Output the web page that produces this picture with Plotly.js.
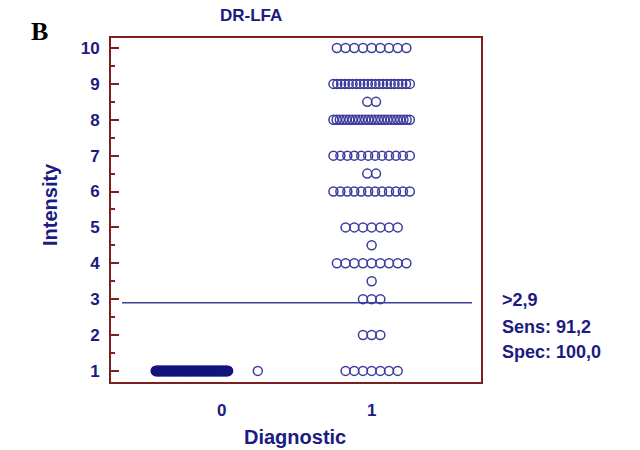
<!DOCTYPE html>
<html>
<head>
<meta charset="utf-8">
<script src="https://cdn.plot.ly/plotly-3.0.1.min.js"></script>
<style>html,body{margin:0;padding:0;background:#fff;}#chart{width:640px;height:450px;}</style>
</head>
<body>
<div id="chart"></div>
<script>
// ---- data ----
const groups = [0, 1];
const groupLabels = ['0', '1'];
// Diagnostic 0: intensity values (all at 1)
const g0Values = [1, 1, 1, 1, 1, 1, 1, 1, 1, 1, 1, 1, 1, 1, 1, 1, 1, 1, 1, 1,
                  1, 1, 1, 1, 1, 1, 1, 1, 1, 1, 1, 1, 1, 1, 1, 1, 1, 1, 1, 1,
                  1, 1, 1, 1, 1, 1, 1, 1, 1, 1, 1, 1, 1, 1, 1, 1, 1, 1, 1, 1];
// Diagnostic 1: distinct intensity levels and how many samples at each
const g1Levels = [10, 9, 8.5, 8, 7, 6.5, 6, 5, 4.5, 4, 3.5, 3, 2, 1];
const g1Counts = [9, 21, 2, 25, 12, 2, 12, 7, 1, 9, 1, 3, 3, 7];
const cutoff = 2.9;
const cutoffLabels = ['>2,9', 'Sens: 91,2', 'Spec: 100,0'];

// ---- layout helpers (dot-plot spreading) ----
const STEP = 0.058, MAXW = 0.51;
function spreadRow(center, n) {
  const w = Math.min((n - 1) * STEP, MAXW);
  const s = n > 1 ? w / (n - 1) : 0;
  const out = [];
  for (let i = 0; i < n; i++) out.push(center - w / 2 + i * s);
  return out;
}
const x1 = [], y1 = [];
g1Levels.forEach((v, i) => {
  spreadRow(groups[1], g1Counts[i]).forEach(x => { x1.push(x); y1.push(v); });
});
// group 0: dense run, last sample drawn apart
const x0 = [], y0 = [], x0b = [], y0b = [];
const n0 = g0Values.length;
g0Values.forEach((v, i) => {
  if (i < n0 - 1) { x0.push(groups[0] - 0.44 + i * (0.48 / (n0 - 2))); y0.push(v); }
  else { x0b.push(groups[0] + 0.24); y0b.push(v); }
});

const MARK = '#3c3c9e', DENSE = '#14147e', TXT = '#1b1b82', AX = '#7b1f1f';
const FONT = 'Arial, "Liberation Sans", sans-serif';
const marker = {symbol: 'circle-open', size: 9, color: MARK, line: {width: 1.5, color: MARK}};
const markerDense = {symbol: 'circle-open', size: 9, color: DENSE, line: {width: 2, color: DENSE}};

const traces = [
  {x: x0, y: y0, type: 'scatter', mode: 'markers', marker: markerDense, hoverinfo: 'skip'},
  {x: x0b, y: y0b, type: 'scatter', mode: 'markers', marker: marker, hoverinfo: 'skip'},
  {x: x1, y: y1, type: 'scatter', mode: 'markers', marker: marker, hoverinfo: 'skip'}
];

const PL = 111, PR = 481, PT = 38, PB = 382;
function px(xp) { return (xp - PL) / (PR - PL); }
function py(yp) { return (PB - yp) / (PB - PT); }
const bold = (size, color) => ({family: FONT, size: size, color: color, weight: 'bold'});
function note(text, x, y, size, opts) {
  return Object.assign({text: '<b>' + text + '</b>', x: px(x), y: py(y), xref: 'paper', yref: 'paper',
    xanchor: 'center', yanchor: 'middle', showarrow: false, font: bold(size, TXT)}, opts || {});
}

const annotations = [
  note('DR-LFA', 251, 15, 17),
  note('Intensity', 50, 205, 20, {textangle: -90}),
  note('Diagnostic', 295, 437, 20),
  note('B', 39, 32, 26, {font: {family: '"Liberation Serif", "Times New Roman", serif', size: 26, color: '#000'}}),
  note(cutoffLabels[0], 500, 300, 18, {xanchor: 'left'}),
  note(cutoffLabels[1], 500, 327, 18, {xanchor: 'left'}),
  note(cutoffLabels[2], 500, 352, 18, {xanchor: 'left'})
];

const layout = {
  width: 640, height: 450,
  margin: {l: PL, r: 640 - PR, t: PT, b: 450 - PB},
  paper_bgcolor: '#fff', plot_bgcolor: '#fff',
  showlegend: false,
  xaxis: {
    range: [-0.74, 1.73], tickvals: groups, ticktext: groupLabels, ticks: '',
    showgrid: false, zeroline: false, showline: true, mirror: true, linecolor: AX, linewidth: 2,
    tickfont: bold(17, TXT), ticklabelstandoff: 12, fixedrange: true
  },
  yaxis: {
    range: [0.69, 10.28], tickmode: 'linear', tick0: 0, dtick: 1, ticks: 'inside', ticklen: 8, tickwidth: 2, tickcolor: AX,
    minor: {dtick: 0.5, ticks: 'inside', ticklen: 4, tickwidth: 2, tickcolor: AX},
    showgrid: false, zeroline: false, showline: true, mirror: true, linecolor: AX, linewidth: 2,
    tickfont: bold(17, TXT), ticklabelstandoff: 6, fixedrange: true
  },
  shapes: [
    {type: 'line', xref: 'paper', yref: 'y', x0: px(122), x1: px(472), y0: cutoff, y1: cutoff, line: {color: MARK, width: 1.5}}
  ],
  annotations: annotations
};

Plotly.newPlot('chart', traces, layout, {staticPlot: true, displayModeBar: false});
</script>
</body>
</html>
